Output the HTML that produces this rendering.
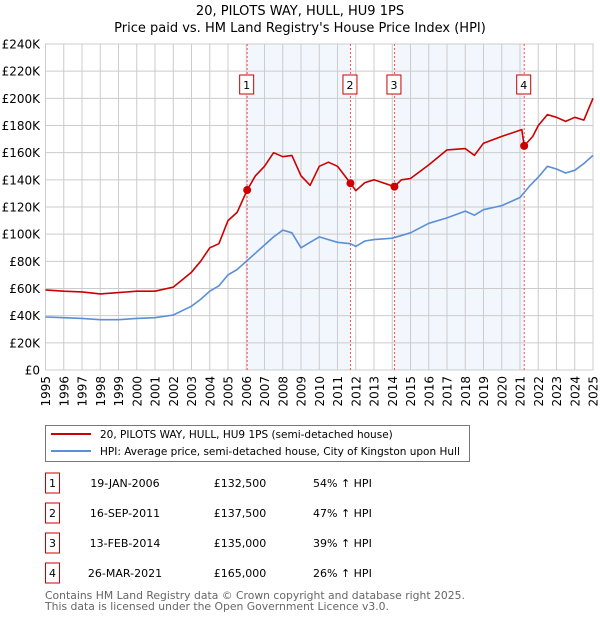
<!DOCTYPE html>
<html><head><meta charset="utf-8"><style>
body{margin:0;background:#fff;font-family:"Liberation Sans","DejaVu Sans",sans-serif;}
svg text{font-family:"DejaVu Sans","Liberation Sans",sans-serif;}
</style></head><body>
<svg width="600" height="620" viewBox="0 0 600 620" id="c">
<text x="300" y="15" text-anchor="middle" font-size="13">20, PILOTS WAY, HULL, HU9 1PS</text>
<text x="300" y="32" text-anchor="middle" font-size="13">Price paid vs. HM Land Registry's House Price Index (HPI)</text>
<g id="plot"></g>
<rect x="45.5" y="425.5" width="424" height="36" fill="#fff" stroke="#777"/>
<line x1="51" y1="434" x2="91" y2="434" stroke="#cc0000" stroke-width="2"/>
<text x="100" y="438" font-size="10.5">20, PILOTS WAY, HULL, HU9 1PS (semi-detached house)</text>
<line x1="51" y1="451" x2="91" y2="451" stroke="#5b8fd6" stroke-width="2"/>
<text x="100" y="455" font-size="10.5">HPI: Average price, semi-detached house, City of Kingston upon Hull</text>
<g id="table" font-size="11"></g>
<text x="45" y="599" font-size="10.8" fill="#666">Contains HM Land Registry data © Crown copyright and database right 2025.</text>
<text x="45" y="610" font-size="10.8" fill="#666">This data is licensed under the Open Government Licence v3.0.</text>
</svg>
<script>
const hpiYears=[1995,1996,1997,1998,1999,2000,2001,2002,2003,2003.5,2004,2004.5,2005,2005.5,2006,2006.5,2007,2007.5,2008,2008.5,2009,2009.5,2010,2010.5,2011,2011.7,2012,2012.5,2013,2014,2015,2016,2017,2018,2018.5,2019,2020,2021,2021.5,2022,2022.5,2023,2023.5,2024,2024.5,2025];
const hpiValues=[39,38.5,38,37,37,38,38.5,40.5,47,52,58,62,70,74,80,86,92,98,103,101,90,94,98,96,94,93,91,95,96,97,101,108,112,117,114,118,121,127,135,142,150,148,145,147,152,158];
const priceYears=[1995,1996,1997,1998,1999,2000,2001,2002,2003,2003.5,2004,2004.5,2005,2005.5,2006.05,2006.5,2007,2007.5,2008,2008.5,2009,2009.5,2010,2010.5,2011,2011.71,2012,2012.5,2013,2014.12,2014.5,2015,2016,2017,2018,2018.5,2019,2020,2021.1,2021.23,2021.7,2022,2022.5,2023,2023.5,2024,2024.5,2025];
const priceValues=[59,58,57.5,56,57,58,58,61,72,80,90,93,110,116,132.5,143,150,160,157,158,143,136,150,153,150,137.5,132,138,140,135,140,141,151,162,163,158,167,172,177,165,172,180,188,186,183,186,184,200];
const saleLabels=["1","2","3","4"];
const saleDates=[2006.05,2011.71,2014.12,2021.23];
const salePrices=[132.5,137.5,135,165];
const saleDateText=["19-JAN-2006","16-SEP-2011","13-FEB-2014","26-MAR-2021"];
const salePriceText=["£132,500","£137,500","£135,000","£165,000"];
const saleHpiText=["54% ↑ HPI","47% ↑ HPI","39% ↑ HPI","26% ↑ HPI"];
const yTicks=[0,20,40,60,80,100,120,140,160,180,200,220,240];
const xTicks=[1995,1996,1997,1998,1999,2000,2001,2002,2003,2004,2005,2006,2007,2008,2009,2010,2011,2012,2013,2014,2015,2016,2017,2018,2019,2020,2021,2022,2023,2024,2025];

const NS="http://www.w3.org/2000/svg";
const X0=45.5,X1=593,Y0=370,Y1=44;
const xs=v=>X0+(v-1995)/30*(X1-X0);
const ys=v=>Y0-v/240*(Y0-Y1);
const plot=document.getElementById('plot');
function mk(tag,attrs,parent){const e=document.createElementNS(NS,tag);for(const k in attrs)e.setAttribute(k,attrs[k]);(parent||plot).appendChild(e);return e;}
for(const [a,b] of [[0,1],[2,3]]){
  const r=mk('rect',{x:xs(saleDates[a]),y:Y1,width:xs(saleDates[b])-xs(saleDates[a]),height:Y0-Y1,fill:'#f2f6fd'});
  
  
}
yTicks.forEach(t=>{
  const l=mk('line',{x1:X0,x2:X1,y1:ys(t),y2:ys(t),stroke:'#ccc','stroke-width':1});
  
  
  const tx=mk('text',{x:40,y:ys(t)+4.5,'text-anchor':'end','font-size':12});
  tx.textContent=t===0?'£0':'£'+t+'K';
  
  
});
xTicks.forEach(t=>{
  const l=mk('line',{x1:xs(t),x2:xs(t),y1:Y1,y2:Y0,stroke:'#ccc','stroke-width':1});
  
  
  const tx=mk('text',{transform:`translate(${xs(t)+4.5},376) rotate(-90)`,'text-anchor':'end','font-size':12});
  tx.textContent=t;
  
  
});
const fr=mk('rect',{x:X0,y:Y1,width:X1-X0,height:Y0-Y1,fill:'none',stroke:'#ccc'});


saleDates.forEach((d,i)=>{
  const l=mk('line',{x1:xs(d),x2:xs(d),y1:Y1,y2:Y0,stroke:'#ee5555','stroke-dasharray':'2,2','stroke-width':1});
  
  
  const r=mk('rect',{x:xs(d)-7.5,y:75,width:14,height:19,fill:'#fff',stroke:'#cc0000'});
  
  
  const t=mk('text',{x:xs(d)-0.5,y:89,'text-anchor':'middle','font-size':11});
  t.textContent=saleLabels[i];
  
  
});
function path(xa,va,color,name){
  const d=xa.map((x,i)=>(i?'L':'M')+xs(x).toFixed(1)+','+ys(va[i]).toFixed(1)).join('');
  const p=mk('path',{d:d,fill:'none',stroke:color,'stroke-width':1.6,'stroke-linejoin':'round'});
  
  
}
path(hpiYears,hpiValues,'#5b8fd6','hpi-line');
path(priceYears,priceValues,'#cc0000','price-line');
saleDates.forEach((d,i)=>{
  const c=mk('circle',{cx:xs(d),cy:ys(salePrices[i]),r:4,fill:'#cc0000'});
  
  
});
const tb=document.getElementById('table');
saleLabels.forEach((s,i)=>{
  const y=483+i*30;
  const r=mk('rect',{x:45.5,y:y-10,width:14,height:20,fill:'#fff',stroke:'#cc0000'},tb);
  
  
  const cols=[[52.5,s,'middle','table-sale-number'],[125,saleDateText[i],'middle','table-sale-date'],[240,salePriceText[i],'middle','table-sale-price'],[313,saleHpiText[i],'start','table-sale-hpi']];
  cols.forEach(c=>{
    const t=mk('text',{x:c[0],y:y+4,'text-anchor':c[2]},tb);
    t.textContent=c[1];
    
    
  });
});
</script>
</body></html>
